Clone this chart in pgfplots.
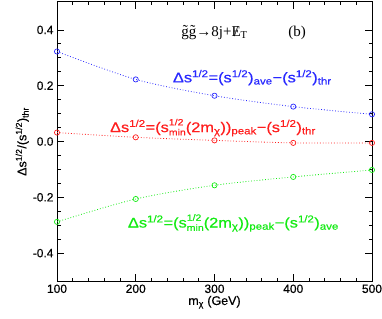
\documentclass[border=0pt]{standalone}
\usepackage{pgfplots}
\pgfplotsset{compat=1.18}
\usepackage{fontspec}
\setmainfont{Liberation Sans}
\newfontfamily\serif{Liberation Serif}
\newfontfamily\wide{Liberation Sans}[FakeStretch=1.17, FakeBold=0.6]
\newfontfamily\tickf{Liberation Sans}[FakeBold=0.4]
\definecolor{cblue}{RGB}{40,40,255}
\definecolor{cred}{RGB}{255,30,30}
\definecolor{cgreen}{RGB}{20,235,20}
\newcommand{\sh}{\textsuperscript{1/2}}
\newcommand{\smin}{s\raisebox{-0.45ex}{\shortstack[l]{\fontsize{9}{9}\selectfont 1/2\\[0.5pt]\fontsize{9}{9}\selectfont min}}}
\begin{document}
\begin{tikzpicture}
\begin{axis}[
  scale only axis,
  width=315pt, height=279pt,
  xmin=100, xmax=500, ymin=-0.5, ymax=0.5,
  xtick={100,200,300,400,500},
  ytick={-0.4,-0.2,0,0.2,0.4},
  minor x tick num=4,
  minor y tick num=3,
  tick align=inside,
  major tick length=7pt,
  minor tick length=3.5pt,
  xtick pos=both, ytick pos=both,
  axis line style={line width=1pt},
  tick style={line width=0.7pt,black},
  /pgf/number format/assume math mode=true,
  xticklabel={\pgfmathprintnumber[fixed,precision=0]{\tick}},
  yticklabel={\pgfmathprintnumber[fixed,fixed zerofill,precision=1]{\tick}},
  tick label style={font=\tickf\fontsize{12}{14}\selectfont},
  xlabel={m\textsubscript{χ} (GeV)},
  ylabel={Δs\sh/(s\sh)\textsubscript{thr}},
  label style={font=\tickf\fontsize{12.5}{14}\selectfont},
  xlabel style={yshift=4pt},
  ylabel style={yshift=-3pt},
]
\addplot[cblue, dotted, line width=0.8pt, smooth, mark=o, mark size=2.6pt, mark options={solid, line width=0.7pt}]
coordinates {(100,0.3225) (200,0.2225) (300,0.164) (400,0.125) (500,0.0975)};
\addplot[cred, dotted, line width=0.8pt, smooth, mark=o, mark size=2.6pt, mark options={solid, line width=0.7pt}]
coordinates {(100,0.032) (200,0.015) (300,0.004) (400,-0.005) (500,-0.005)};
\addplot[cgreen, dotted, line width=0.8pt, smooth, mark=o, mark size=2.6pt, mark options={solid, line width=0.7pt}]
coordinates {(100,-0.288) (200,-0.206) (300,-0.157) (400,-0.127) (500,-0.102)};
\node[font=\serif\fontsize{15}{16}\selectfont] at (axis cs:300,0.39) {\~{g}\~{g}→8j+\ooalign{E\cr\hidewidth/\hidewidth}\textsubscript{T}};
\node[font=\serif\fontsize{15}{16}\selectfont] at (axis cs:405,0.39) {(b)};
\node[cblue, font=\wide\fontsize{14}{16}\selectfont] at (axis cs:348,0.229) {Δs\sh=(s\sh)\textsubscript{ave}−(s\sh)\textsubscript{thr}};
\node[cred, font=\wide\fontsize{14}{16}\selectfont] at (axis cs:298,0.05) {Δs\sh=(\smin(2m\textsubscript{χ}))\textsubscript{peak}−(s\sh)\textsubscript{thr}};
\node[cgreen, font=\wide\fontsize{14}{16}\selectfont] at (axis cs:324,-0.292) {Δs\sh=(\smin(2m\textsubscript{χ}))\textsubscript{peak}−(s\sh)\textsubscript{ave}};
\end{axis}
\pgfresetboundingbox
\path (-57pt,-37pt) rectangle (325pt,281pt);
\end{tikzpicture}
\end{document}
